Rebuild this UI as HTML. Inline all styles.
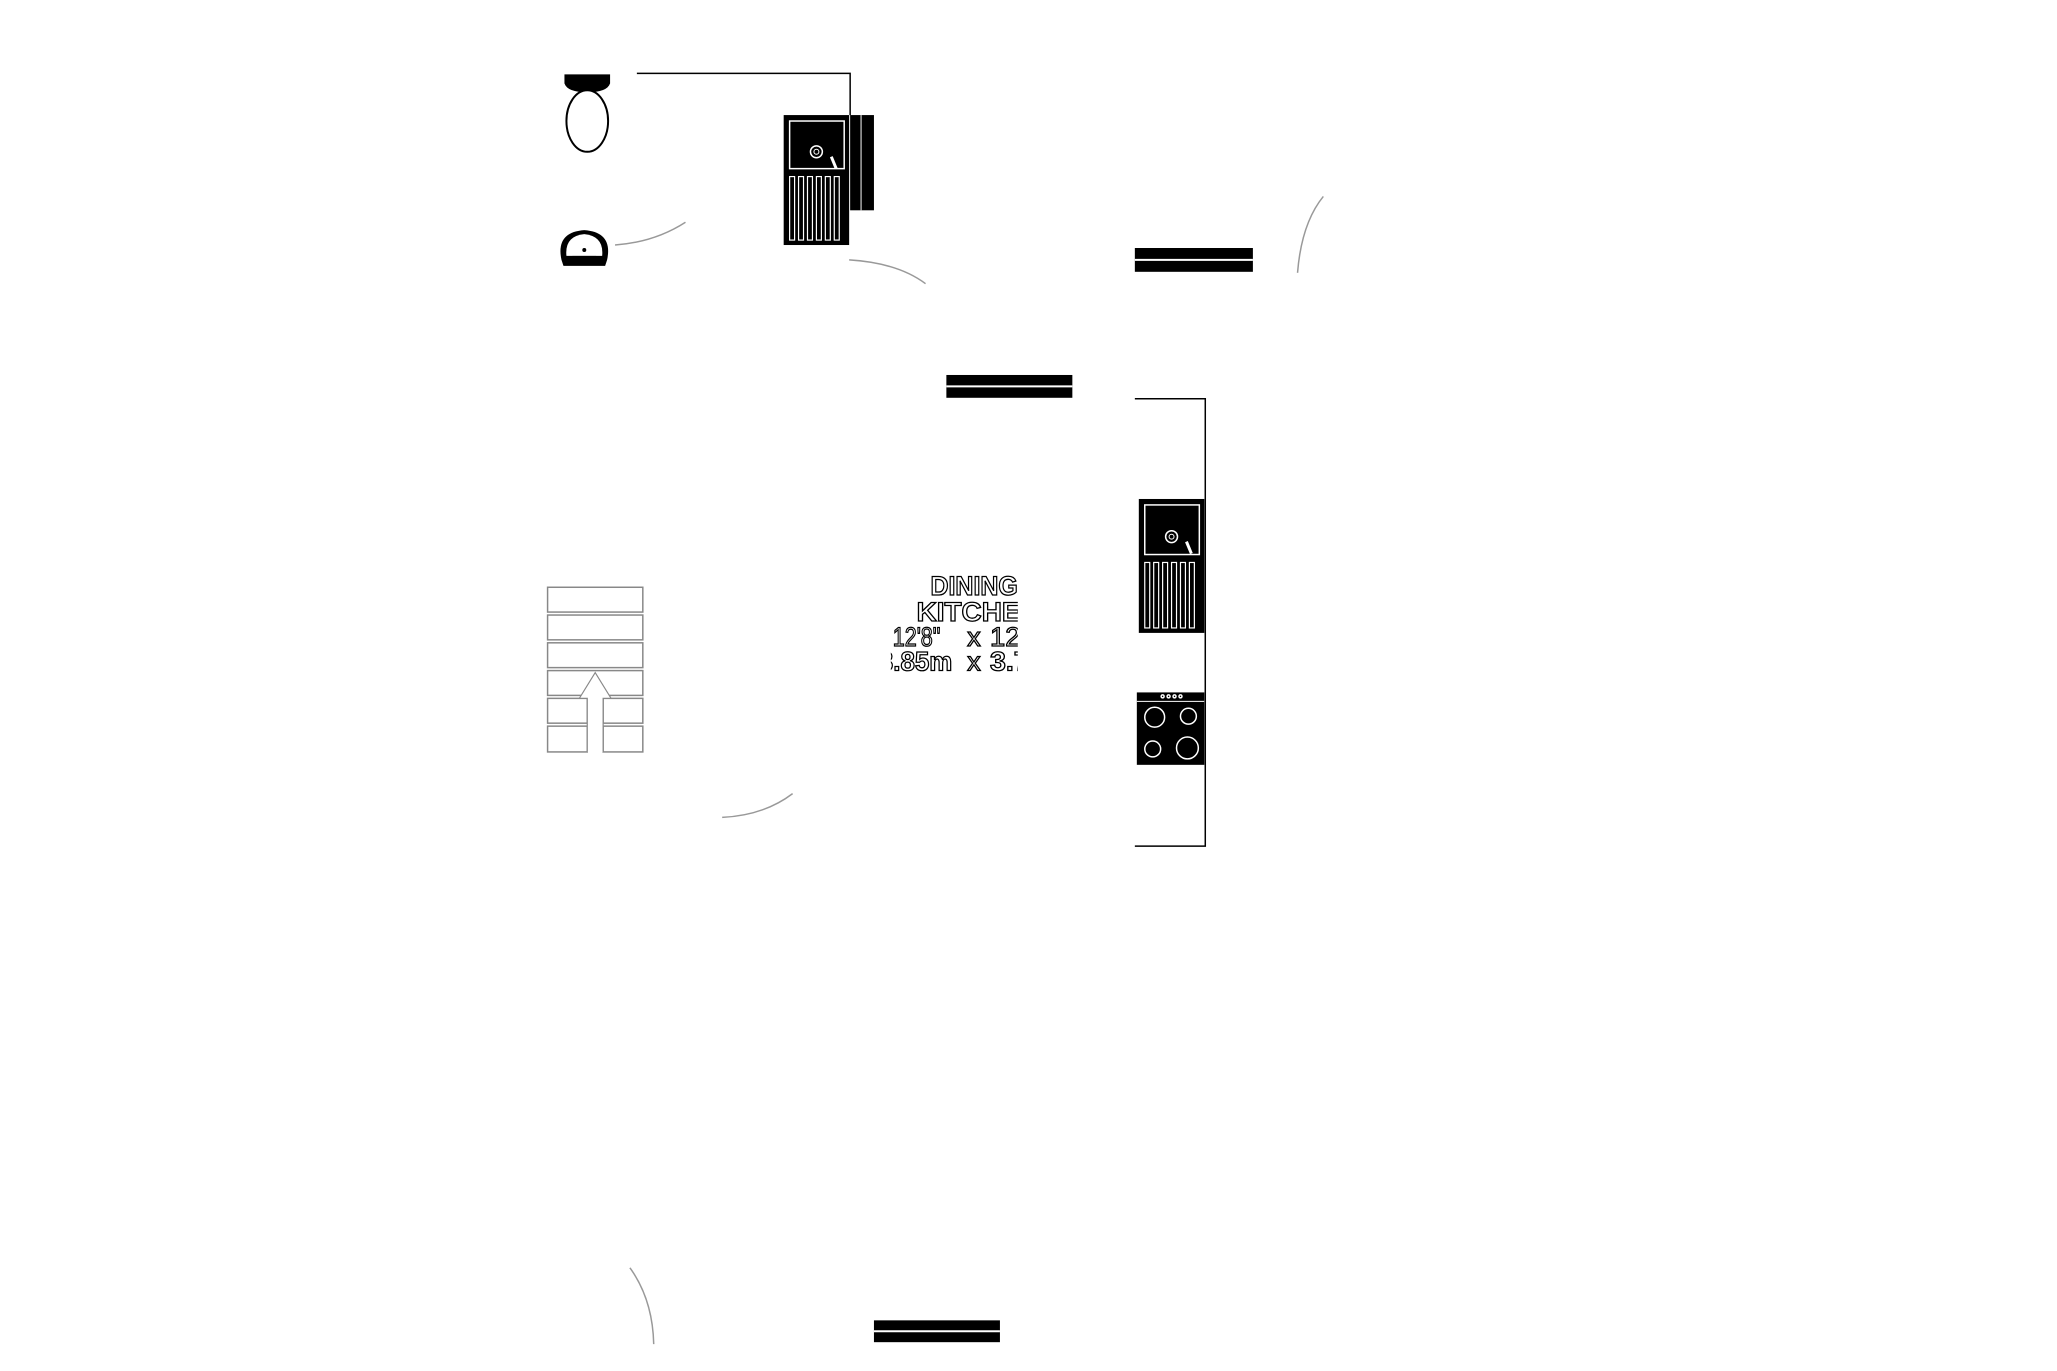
<!DOCTYPE html>
<html><head><style>
html,body{margin:0;padding:0;background:#fff;}
svg{display:block;}
.t{font-family:"Liberation Sans",sans-serif;font-weight:bold;font-size:27px;fill:#fff;stroke:#000;stroke-width:1.3;}
.n{font-weight:normal;}
</style></head><body>
<svg width="2057" height="1371" viewBox="0 0 2057 1371" xmlns="http://www.w3.org/2000/svg">
<defs><clipPath id="c"><rect x="907" y="570" width="128" height="120"/></clipPath></defs>
<g transform="scale(0.992)">
<!-- toilet -->
<path d="M569,75 H615 V84 Q612,93 592,93 Q572,93 569,84 Z" fill="#000"/>
<ellipse cx="592" cy="122" rx="21" ry="31" fill="#fff" stroke="#000" stroke-width="2"/>
<!-- top line -->
<polyline points="642,74 857,74 857,116" fill="none" stroke="#000" stroke-width="1.5"/>
<!-- sink 1 -->
<rect x="790" y="116" width="66" height="131" fill="#000"/>
<rect x="796" y="122" width="55" height="48" fill="none" stroke="#fff" stroke-width="1.5"/>
<circle cx="823" cy="153" r="6" fill="none" stroke="#fff" stroke-width="1.5"/><circle cx="823" cy="153" r="2.5" fill="none" stroke="#fff"/>
<path d="M838,158 L843,170" stroke="#fff" stroke-width="3"/>
<g fill="none" stroke="#fff" stroke-width="1.2">
<rect x="796" y="178" width="5" height="64"/><rect x="805" y="178" width="5" height="64"/><rect x="814" y="178" width="5" height="64"/><rect x="823" y="178" width="5" height="64"/><rect x="832" y="178" width="5" height="64"/><rect x="841" y="178" width="5" height="64"/></g>
<rect x="857" y="116" width="24" height="96" fill="#000"/>
<line x1="868" y1="116" x2="868" y2="212" stroke="#fff"/>
<!-- basin -->
<path d="M566,262 Q560,234 589,232 Q618,234 612,262 L610,268 H568 Z" fill="#000"/>
<path d="M571,258 Q569,238 589,236 Q609,238 607,258 Z" fill="#fff"/>
<circle cx="589" cy="252" r="2" fill="#000"/><rect x="577" y="258" width="24" height="6" fill="#000"/>
<!-- arcs -->
<g fill="none" stroke="#999" stroke-width="1.5">
<path d="M620,247 Q660,244 691,224"/>
<path d="M856,262 Q905,265 933,286"/>
<path d="M1308,275 Q1312,225 1334,198"/>
<path d="M728,824 Q770,822 799,800"/>
<path d="M635,1278 Q658,1310 659,1355"/>
</g>
<!-- windows -->
<rect x="1144" y="250" width="119" height="24" fill="#000"/><line x1="1144" y1="262" x2="1263" y2="262" stroke="#fff" stroke-width="2"/>
<rect x="954" y="378" width="127" height="23" fill="#000"/><line x1="954" y1="389.5" x2="1081" y2="389.5" stroke="#fff" stroke-width="2"/>
<rect x="881" y="1331" width="127" height="22" fill="#000"/><line x1="881" y1="1342" x2="1008" y2="1342" stroke="#fff" stroke-width="2"/>
<!-- right wall -->
<polyline points="1144,402 1215,402 1215,853 1144,853" fill="none" stroke="#000" stroke-width="1.5"/>
<!-- sink 2 -->
<rect x="1148" y="503" width="66" height="135" fill="#000"/>
<rect x="1154" y="509" width="55" height="50" fill="none" stroke="#fff" stroke-width="1.5"/>
<circle cx="1181" cy="541" r="6" fill="none" stroke="#fff" stroke-width="1.5"/><circle cx="1181" cy="541" r="2.5" fill="none" stroke="#fff"/>
<path d="M1196,546 L1201,558" stroke="#fff" stroke-width="3"/>
<g fill="none" stroke="#fff" stroke-width="1.2">
<rect x="1154" y="567" width="5" height="66"/><rect x="1163" y="567" width="5" height="66"/><rect x="1172" y="567" width="5" height="66"/><rect x="1181" y="567" width="5" height="66"/><rect x="1190" y="567" width="5" height="66"/><rect x="1199" y="567" width="5" height="66"/></g>
<!-- hob -->
<rect x="1146" y="698" width="68" height="73" fill="#000"/>
<line x1="1146" y1="707" x2="1214" y2="707" stroke="#fff"/>
<g fill="none" stroke="#fff" stroke-width="1.5">
<circle cx="1164" cy="723" r="10"/><circle cx="1198" cy="722" r="8"/><circle cx="1162" cy="755" r="8"/><circle cx="1197" cy="754" r="11"/>
<circle cx="1172" cy="702" r="1.5"/><circle cx="1178" cy="702" r="1.5"/><circle cx="1184" cy="702" r="1.5"/><circle cx="1190" cy="702" r="1.5"/></g>
<!-- stairs -->
<g fill="#fff" stroke="#888" stroke-width="1.5">
<rect x="552" y="592" width="96" height="25"/><rect x="552" y="620" width="96" height="25"/><rect x="552" y="648" width="96" height="25"/><rect x="552" y="676" width="96" height="25"/>
<rect x="552" y="704" width="40" height="25"/><rect x="608" y="704" width="40" height="25"/>
<rect x="552" y="732" width="40" height="26"/><rect x="608" y="732" width="40" height="26"/>
</g>
<polyline points="592,758 592,704 584,704 600,678 616,704 608,704 608,758" fill="#fff" stroke="#888" stroke-width="1.2"/>
<!-- text -->
<g transform="translate(-9,-1)">
<g clip-path="url(#c)">
<text class="t" x="947" y="601" textLength="88" lengthAdjust="spacingAndGlyphs">DINING</text>
<text class="t" x="933" y="627" textLength="125" lengthAdjust="spacingAndGlyphs">KITCHEN</text>
<text class="t n" x="909" y="652" textLength="48" lengthAdjust="spacingAndGlyphs">12'8"</text>
<text class="t n" x="984" y="652">x</text>
<text class="t n" x="1007" y="652" textLength="36" lengthAdjust="spacingAndGlyphs">12'</text>
<text class="t" x="895" y="677" textLength="74" lengthAdjust="spacingAndGlyphs">3.85m</text>
<text class="t n" x="984" y="677">x</text>
<text class="t" x="1007" y="677" textLength="40" lengthAdjust="spacingAndGlyphs">3.7</text>
</g>
</g>
</g>
</svg>
</body></html>
